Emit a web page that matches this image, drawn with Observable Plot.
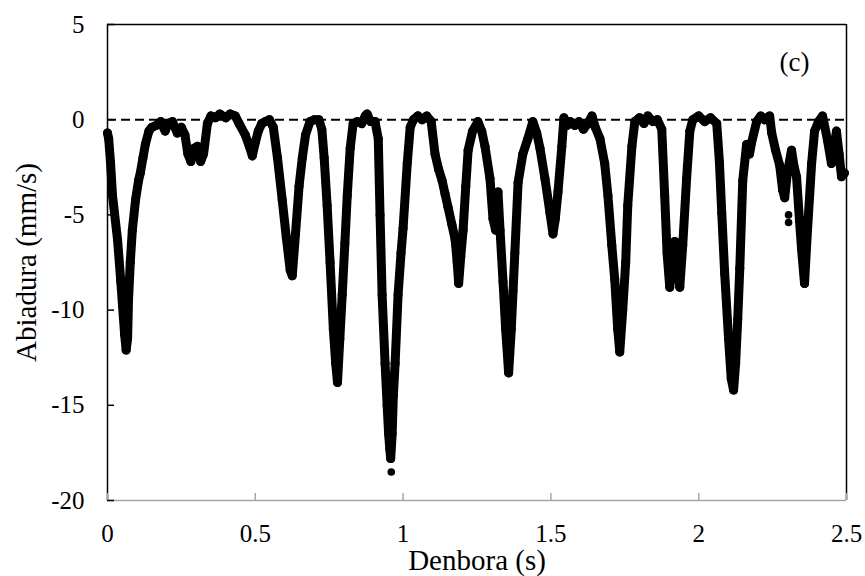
<!DOCTYPE html>
<html>
<head>
<meta charset="utf-8">
<script src="https://cdn.jsdelivr.net/npm/d3@7"></script>
<script src="https://cdn.jsdelivr.net/npm/@observablehq/plot@0.6"></script>
<style>
  html, body { margin: 0; padding: 0; background: white; }
  svg text { font-family: 'Liberation Serif', 'Times New Roman', serif; }
</style>
</head>
<body>
<div id="chart"></div>
<script>
// Time (s)
const times = [
  0.000, 0.004, 0.010, 0.017, 0.034, 0.045, 0.051, 0.058, 0.063, 0.068,
  0.071, 0.077, 0.084, 0.095, 0.105, 0.111, 0.120, 0.128, 0.140, 0.150,
  0.165, 0.180, 0.195, 0.205, 0.220, 0.236, 0.250, 0.262, 0.272, 0.282,
  0.293, 0.304, 0.315, 0.325, 0.338, 0.350, 0.365, 0.380, 0.400, 0.415,
  0.432, 0.445, 0.466, 0.480, 0.490, 0.500, 0.510, 0.522, 0.534, 0.548,
  0.561, 0.575, 0.591, 0.605, 0.618, 0.625, 0.636, 0.648, 0.659, 0.670,
  0.685, 0.700, 0.715, 0.725, 0.733, 0.743, 0.753, 0.764, 0.772, 0.778,
  0.786, 0.794, 0.803, 0.811, 0.821, 0.831, 0.845, 0.860, 0.872, 0.878,
  0.890, 0.905, 0.916, 0.922, 0.929, 0.939, 0.946, 0.951, 0.955, 0.958,
  0.963, 0.967, 0.973, 0.983, 0.993, 1.000, 1.014, 1.024, 1.035, 1.050,
  1.064, 1.080, 1.095, 1.108, 1.120, 1.132, 1.142, 1.152, 1.165, 1.176,
  1.183, 1.188, 1.195, 1.203, 1.212, 1.220, 1.235, 1.253, 1.266, 1.277,
  1.294, 1.304, 1.313, 1.321, 1.328, 1.338, 1.347, 1.357, 1.366, 1.372,
  1.378, 1.389, 1.405, 1.422, 1.439, 1.452, 1.463, 1.480, 1.497, 1.507,
  1.515, 1.524, 1.537, 1.544, 1.555, 1.565, 1.581, 1.595, 1.610, 1.625,
  1.639, 1.650, 1.666, 1.682, 1.693, 1.706, 1.716, 1.726, 1.733, 1.743,
  1.753, 1.760, 1.774, 1.784, 1.800, 1.815, 1.828, 1.845, 1.860, 1.875,
  1.885, 1.893, 1.902, 1.910, 1.919, 1.928, 1.936, 1.946, 1.959, 1.970,
  1.980, 2.000, 2.020, 2.040, 2.061, 2.070, 2.078, 2.088, 2.101, 2.110,
  2.118, 2.125, 2.132, 2.139, 2.149, 2.162, 2.172, 2.179, 2.196, 2.210,
  2.223, 2.240, 2.247, 2.260, 2.274, 2.284, 2.291, 2.300, 2.314, 2.322,
  2.331, 2.341, 2.348, 2.358, 2.368, 2.382, 2.392, 2.405, 2.419, 2.436,
  2.449, 2.458, 2.466, 2.475, 2.483, 2.493
];
// Velocity (mm/s)
const speeds = [
  -0.7, -1.0, -2.2, -4.0, -6.3, -8.5, -9.8, -11.3, -12.1, -11.5,
  -9.5, -7.5, -5.8, -4.2, -3.2, -2.8, -2.0, -1.3, -0.6, -0.4,
  -0.3, -0.1, -0.6, -0.2, -0.1, -0.7, -0.4, -0.8, -1.8, -2.2,
  -1.5, -1.4, -2.2, -1.8, -0.2, 0.2, 0.1, 0.3, 0.1, 0.3,
  0.2, -0.2, -0.8, -1.4, -1.9, -1.2, -0.6, -0.2, -0.1, 0.0,
  -0.4, -2.0, -4.2, -6.2, -7.9, -8.2, -6.0, -3.5, -2.0, -0.8,
  -0.1, 0.0, 0.0, -0.5, -2.0, -4.5, -7.5, -11.0, -12.8, -13.8,
  -11.5, -9.2, -6.5, -4.0, -1.5, -0.2, -0.1, -0.2, 0.2, 0.3,
  -0.1, -0.1, -1.0, -5.0, -9.2, -12.8, -15.0, -16.5, -17.3, -17.8,
  -16.5, -14.5, -12.8, -9.2, -7.0, -5.7, -2.3, -0.4, 0.0, 0.2,
  0.0, 0.2, -0.1, -1.8, -2.6, -3.2, -3.9, -4.6, -5.5, -6.3,
  -7.5, -8.6, -7.2, -5.8, -3.5, -1.6, -0.6, -0.1, -0.6, -1.4,
  -3.1, -5.2, -5.8, -3.8, -5.8, -8.5, -11.0, -13.3, -11.0, -9.0,
  -7.0, -3.3, -1.8, -1.0, -0.1, -0.7, -1.5, -3.1, -4.9, -6.0,
  -5.2, -3.8, -1.4, 0.1, -0.3, -0.1, -0.3, -0.1, -0.5, -0.2,
  0.2, -0.4, -1.0, -2.3, -4.0, -6.6, -8.4, -11.0, -12.2, -10.0,
  -7.5, -4.5, -1.4, -0.1, 0.1, -0.2, 0.2, -0.1, 0.0, -0.5,
  -4.0, -7.0, -8.8, -7.6, -6.4, -7.6, -8.8, -6.6, -3.1, -0.6,
  0.0, 0.2, -0.1, 0.1, -0.2, -2.2, -4.9, -8.1, -11.5, -13.6,
  -14.2, -12.8, -10.5, -7.8, -3.2, -1.3, -1.8, -1.2, -0.1, 0.2,
  0.0, 0.2, -0.7, -1.6, -2.4, -3.7, -4.1, -2.8, -1.6, -2.4,
  -3.0, -5.3, -6.8, -8.6, -5.8, -2.3, -0.6, -0.1, 0.2, -1.1,
  -2.3, -1.5, -0.6, -1.8, -3.0, -2.8
];
// Isolated points
const outlierTimes = [0.960, 2.304, 2.304];
const outlierSpeeds = [-18.5, -5.0, -5.4];

const xTicks = [0, 0.5, 1, 1.5, 2, 2.5];
const yTicks = [-20, -15, -10, -5, 0, 5];
const xTickLabels = ["0", "0.5", "1", "1.5", "2", "2.5"];
const yTickLabels = ["-20", "-15", "-10", "-5", "0", "5"];
const xLabel = "Denbora (s)";
const yLabel = "Abiadura (mm/s)";
const panelLabel = "(c)";

const serif = "'Liberation Serif', 'Times New Roman', serif";
const series = times.map((t, i) => ({t, v: speeds[i]}));
const outliers = outlierTimes.map((t, i) => ({t, v: outlierSpeeds[i]}));
const xTickData = xTicks.map((x, i) => ({x, label: xTickLabels[i]}));
const yTickData = yTicks.map((y, i) => ({y, label: yTickLabels[i]}));

const chart = Plot.plot({
  width: 865,
  height: 576,
  marginLeft: 107,
  marginRight: 19,
  marginTop: 24,
  marginBottom: 76,
  x: {domain: [0, 2.5]},
  y: {domain: [-20, 5]},
  style: {fontFamily: serif, fontSize: "25px", color: "black", background: "white"},
  marks: [
    // frame: top, left, right black; bottom gray
    Plot.ruleY([5], {stroke: "black", strokeWidth: 1.5}),
    Plot.ruleX([0], {stroke: "black", strokeWidth: 1.5}),
    Plot.ruleX([2.5], {stroke: "black", strokeWidth: 1.5}),
    Plot.ruleY([-20], {stroke: "#a6a6a6", strokeWidth: 1.5}),
    // inward tick marks (labels drawn separately)
    Plot.axisX({ticks: xTicks, tickFormat: () => "", tickSize: -7,
      stroke: "#a6a6a6", strokeWidth: 1.5, label: null}),
    Plot.axisY({ticks: yTicks, tickFormat: () => "", tickSize: -7,
      stroke: "black", strokeWidth: 1.5, label: null}),
    Plot.text(xTickData, {x: "x", text: "label", frameAnchor: "bottom", textAnchor: "middle",
      lineAnchor: "middle", dy: 33, fontSize: 25, fontFamily: serif, fill: "black"}),
    Plot.text(yTickData, {y: "y", text: "label", frameAnchor: "left", textAnchor: "end",
      lineAnchor: "middle", dx: -23, fontSize: 25, fontFamily: serif, fill: "black"}),
    Plot.ruleY([0], {stroke: "black", strokeWidth: 2, strokeDasharray: "9,5"}),
    Plot.line(series, {x: "t", y: "v", stroke: "black", strokeWidth: 9,
      strokeLinejoin: "round", strokeLinecap: "round"}),
    Plot.dot(series, {x: "t", y: "v", r: 4.5, fill: "black", stroke: null}),
    Plot.dot(outliers, {x: "t", y: "v", r: 3.8, fill: "black", stroke: null}),
    Plot.text([xLabel], {text: d => d, frameAnchor: "bottom", textAnchor: "middle", lineAnchor: "middle",
      dy: 60, fontSize: 29, fontFamily: serif, fill: "black"}),
    Plot.text([yLabel], {text: d => d, frameAnchor: "left", textAnchor: "middle", lineAnchor: "middle",
      dx: -81, rotate: -90, fontSize: 29, fontFamily: serif, fill: "black"}),
    Plot.text([panelLabel], {text: d => d, frameAnchor: "top-right", textAnchor: "middle", lineAnchor: "middle",
      dx: -52, dy: 38, fontSize: 27, fontFamily: serif, fill: "black"})
  ]
});
document.getElementById("chart").appendChild(chart);
</script>
</body>
</html>
